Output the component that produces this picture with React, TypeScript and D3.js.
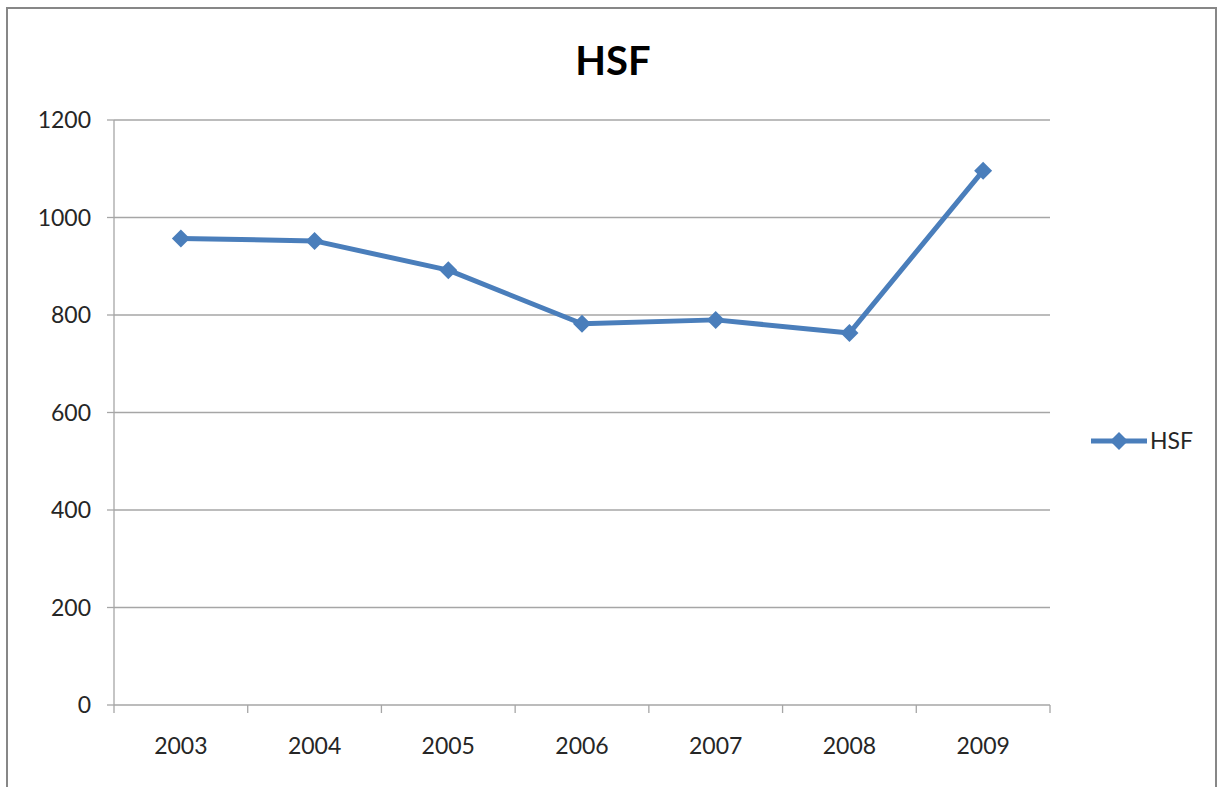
import React from "react";
import * as d3 from "d3";

const categories = ["2003", "2004", "2005", "2006", "2007", "2008", "2009"];
const values = [957, 952, 892, 782, 790, 763, 1096];
const yTicks = [0, 200, 400, 600, 800, 1000, 1200];
const seriesName = "HSF";
const title = "HSF";

const W = 1219;
const H = 787;
const plot = { left: 114, right: 1050, top: 120, bottom: 705 };
const color = "#4a7ebb";
const font = "Lato, 'Open Sans', sans-serif";
const labelSize = 23;

export default function App() {
  const x = d3.scaleBand().domain(categories).range([plot.left, plot.right]);
  const y = d3.scaleLinear().domain([0, 1200]).range([plot.bottom, plot.top]);
  const line = d3
    .line<number>()
    .x((_, i) => (x(categories[i]) as number) + x.bandwidth() / 2)
    .y((d) => y(d));
  const diamond = (cx: number, cy: number, r: number) =>
    `M${cx},${cy - r}L${cx + r},${cy}L${cx},${cy + r}L${cx - r},${cy}Z`;
  const boundaries = categories.map((c) => x(c) as number).concat([plot.right]);

  return (
    <svg
      width={W}
      height={H}
      style={{ position: "absolute", left: 0, top: 0, background: "#fff" }}
    >
      <rect x={7} y={8} width={1209} height={800} fill="#fff" stroke="#878787" strokeWidth={2} />
      <text x={613} y={75} textAnchor="middle" fontFamily={font} fontWeight="bold" fontSize={40} fill="#000">
        {title}
      </text>
      {yTicks.map((t) => (
        <g key={t}>
          <line x1={plot.left} x2={plot.right} y1={y(t)} y2={y(t)} stroke="#a6a6a6" strokeWidth={1.3} />
          <line x1={107} x2={plot.left} y1={y(t)} y2={y(t)} stroke="#a6a6a6" strokeWidth={1.3} />
          <text x={91} y={y(t)} dy="0.36em" textAnchor="end" fontFamily={font} fontSize={labelSize} fill="#262626">
            {t}
          </text>
        </g>
      ))}
      <line x1={plot.left} x2={plot.left} y1={plot.top} y2={plot.bottom} stroke="#a6a6a6" strokeWidth={1.3} />
      {boundaries.map((b, i) => (
        <line key={i} x1={b} x2={b} y1={plot.bottom} y2={plot.bottom + 8} stroke="#a6a6a6" strokeWidth={1.3} />
      ))}
      {categories.map((c) => (
        <text
          key={c}
          x={(x(c) as number) + x.bandwidth() / 2}
          y={754}
          textAnchor="middle"
          fontFamily={font}
          fontSize={labelSize}
          fill="#262626"
        >
          {c}
        </text>
      ))}
      <path d={line(values) || ""} fill="none" stroke={color} strokeWidth={5} strokeLinejoin="round" />
      {values.map((v, i) => (
        <path
          key={i}
          d={diamond((x(categories[i]) as number) + x.bandwidth() / 2, y(v), 9)}
          fill={color}
        />
      ))}
      <line x1={1091} x2={1147} y1={441} y2={441} stroke={color} strokeWidth={5} />
      <path d={diamond(1119, 441, 9)} fill={color} />
      <text x={1150} y={441} dy="0.36em" fontFamily={font} fontSize={labelSize} fill="#262626">
        {seriesName}
      </text>
    </svg>
  );
}
